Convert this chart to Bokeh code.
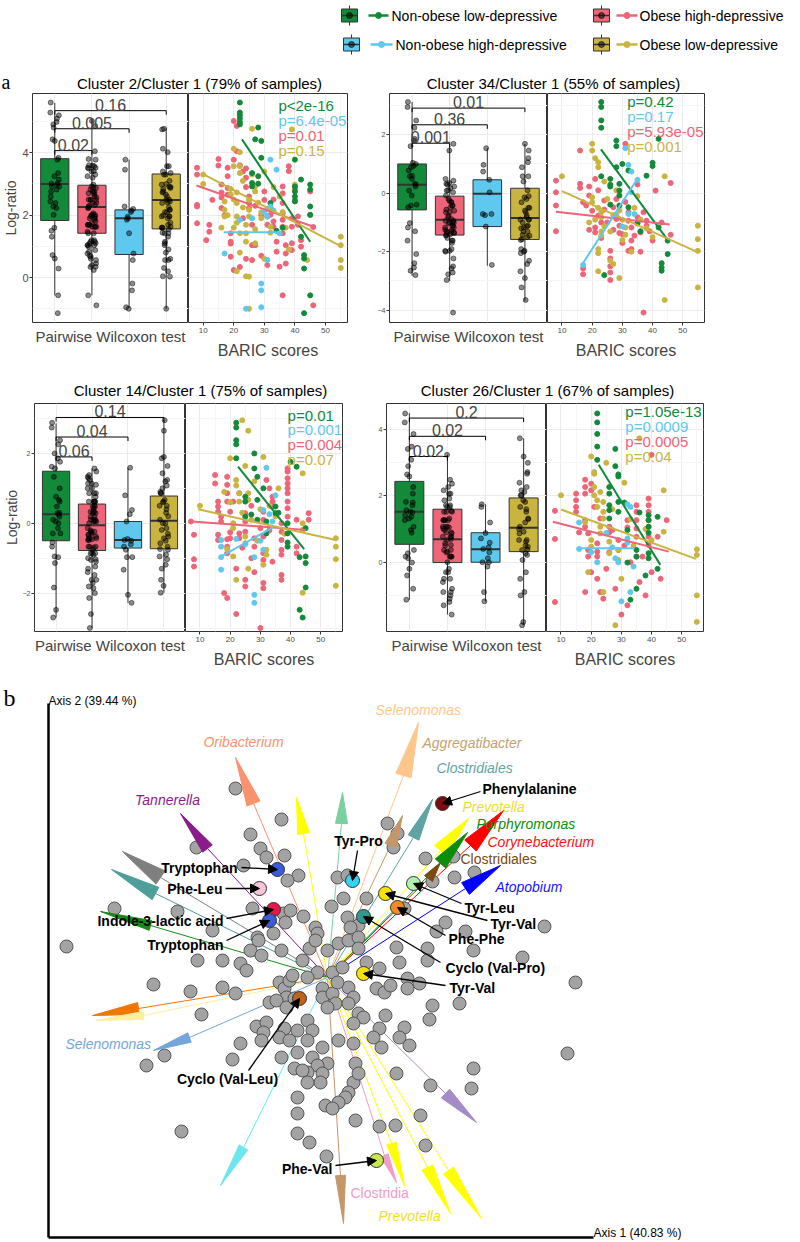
import math
from bokeh.plotting import figure
from bokeh.layouts import column, row
from bokeh.models import Range1d, FixedTicker, Label, Arrow, NormalHead, ColumnDataSource
from bokeh.core.properties import value
from bokeh.embed import file_html
from bokeh.resources import INLINE

FONT = "Liberation Sans"
SERIF = "Liberation Serif"

# ---------------- groups ----------------
GROUPS = ["Non-obese low-depressive", "Obese high-depressive",
          "Non-obese high-depressive", "Obese low-depressive"]
GROUP_COLORS = ["#13893A", "#EE6478", "#5EC8EE", "#C9B440"]

# ---------------- panel a : Cluster 2 / Cluster 1 ----------------
TL_LO = [-0.57, -0.57, -0.97, -1.0]
TL_Q1 = [1.83, 1.42, 0.74, 1.56]
TL_MED = [3.0, 2.26, 1.9, 2.49]
TL_Q3 = [3.81, 2.96, 2.17, 3.32]
TL_HI = [5.6, 5.07, 3.78, 4.8]
TL_GREEN = [(22, 5.61), (22, 5.29), (22, 5.2), (22, 5.1), (22, 4.99), (22, 4.91), (28, 4.81), (27, 4.43),
            (29, 4.38), (29, 3.84), (26, 3.35), (26, 3.03), (26, 2.92), (28, 3.25), (28, 3.01), (32, 2.39),
            (32, 2.23), (40, 3.78), (40, 2.92), (40, 2.76), (40, 2.6), (40, 2.44), (42, 3.14), (45, 2.98),
            (45, 2.82), (45, 2.28), (45, 2.01), (43, 0.72), (43, 0.61), (43, 0.29), (45, -0.57), (43, -1.14),
            (42, 1.31), (36, 1.6), (34, 1.5)]
TL_PINK = [(8, 3.52), (8, 3.3), (8, 2.33), (8, 2.28), (8, 1.74), (15, 3.8), (15, 3.59), (16, 2.98), (16, 2.73),
           (16, 2.57), (16, 2.23), (18, 3.52), (18, 3.25), (18, 2.87), (18, 2.66), (19, 1.42), (19, 1.15),
           (19, 0.67), (19, 1.09), (20, 5.02), (20, 3.78), (21, 4.86), (21, 4.05), (22, 3.6), (23, 3.4),
           (24, 3.5), (24, 3.2), (24, 2.9), (25, 2.6), (25, 2.39), (25, 2.23), (26, 1.69), (26, 1.04), (26, 0.56),
           (27, 1.04), (30, 2.76), (30, 2.49), (31, 1.96), (31, 1.69), (32, 2.01), (33, 1.8), (33, 1.63),
           (34, 1.15), (34, 0.83), (36, 2.92), (36, 2.7), (36, 2.39), (36, 2.06), (36, 1.85), (36, 1.63),
           (36, 1.42), (37, 1.04), (37, 0.77), (37, 0.45), (38, 3.57), (38, 3.41), (40, 2.82), (40, 2.49),
           (39, 1.9), (39, 1.63), (39, 1.1), (39, 0.88), (41, 1.96), (41, 1.69), (42, 1.2), (42, 0.99),
           (45, 2.76), (45, 2.01), (46, 1.62), (46, -0.89), (36, -0.57), (12, 1.69), (12, 1.47), (13, 2.49),
           (11, 1.2), (20, 0.24), (22, 0.34), (24, 0.6), (29, 0.7), (31, 0.4), (35, 0.35), (17, 2.0),
           (23, 1.9), (27, 2.3), (29, 2.0), (33, 2.5)]
TL_BLUE = [(17, 0.77), (32, 3.78), (34, 3.46), (32, 2.28), (31, 2.2), (33, 2.15), (30, 2.1), (31, 1.95),
           (26, 1.9), (22, 1.85), (35, 1.42), (31, 0.56), (29, -0.19), (29, -0.41), (29, -0.95), (24, -1.0)]
TL_YELLOW = [(10, 3.3), (10, 3.0), (17, 2.44), (17, 2.17), (17, 1.96), (19, 2.84), (19, 2.66), (20, 4.13),
             (20, 3.57), (22, 4.02), (22, 3.57), (22, 3.35), (21, 2.73), (21, 2.39), (21, 1.96), (21, 1.76),
             (22, 1.42), (24, 1.69), (24, 1.42), (24, 1.15), (26, 4.77), (25, 2.49), (25, 2.17), (25, 1.96),
             (27, 2.92), (27, 2.76), (22, 0.8), (24, 0.04), (29, 2.09), (29, 1.9), (27, 1.55), (32, 1.63),
             (32, 1.44), (39, 4.75), (40, 2.98), (40, 2.87), (44, 0.56), (55, 1.31), (55, 1.04), (55, 0.56),
             (55, 0.31), (25, -1.0), (25, 0.03), (23, 3.1), (20, 2.5), (18, 2.0), (26, 3.3), (30, 3.4),
             (35, 2.6), (28, 2.4), (23, 2.25), (33, 2.9), (37, 1.6), (20, 1.6), (16, 1.6), (30, 0.6),
             (38, 0.9), (21, 0.2), (27, 1.1), (36, 2.1)]
TL_FIT = [(22.7, 4.43, 45.0, 1.15), (7.8, 2.95, 46.1, 1.63), (16.7, 1.45, 35.0, 1.45), (9.7, 3.33, 55.3, 0.99)]
TL_BRACKETS = [(1, 2, 4.07, "0.02"), (1, 3, 4.77, "0.005"), (1, 4, 5.35, "0.16")]
TL_PVALS = ["p<2e-16", "p=6.4e-05", "p=0.01", "p=0.15"]

# ---------------- panel a : Cluster 34 / Cluster 1 ----------------
TR_LO = [-2.82, -3.0, -2.48, -3.68]
TR_Q1 = [-0.57, -1.43, -1.14, -1.58]
TR_MED = [0.29, -0.91, -0.02, -0.85]
TR_Q3 = [1.0, -0.1, 0.46, 0.17]
TR_HI = [3.12, 1.69, 1.54, 1.68]
TR_GREEN = [(23, 3.12), (23, 2.95), (23, 2.49), (23, 2.24), (28, 1.8), (28, 1.61), (28, 0.89), (23, 0.58),
            (26, 0.49), (26, 0.29), (26, 0.23), (29, 0.32), (29, 0.09), (29, -0.08), (32, 0.78), (40, 1.04),
            (40, 0.93), (42, 1.86), (26, -0.39), (32, -0.48), (42, -1.17), (45, -1.62), (45, -2.08),
            (43, -2.39), (43, -2.54), (43, -2.65), (29, -0.42), (35, -1.02), (38, 0.6), (30, 1.0), (24, -2.8),
            (36, -1.3)]
TR_PINK = [(8, 0.43), (8, 0.03), (8, -0.42), (8, -1.3), (16, 1.46), (16, 0.32), (16, 0.18), (17, -0.31),
           (18, -0.42), (19, 0.23), (19, -0.08), (21, 0.49), (21, -1.17), (21, -1.34), (19, -1.25), (17, -2.57),
           (17, -2.77), (22, -0.77), (23, -1.53), (26, -1.97), (26, -2.23), (26, -2.5), (26, -2.71), (26, -2.97),
           (24, -0.25), (24, -0.56), (27, -0.48), (28, -0.88), (29, -1.11), (29, -1.36), (32, -0.65),
           (32, -0.94), (32, -1.97), (33, -1.17), (33, -1.62), (33, -1.91), (35, -0.82), (35, -1.03),
           (36, -1.34), (37, -0.65), (38, -0.94), (38, -1.11), (40, -1.62), (41, 0.09), (46, 0.35), (46, -1.42),
           (30, -1.4), (31, -0.3), (25, -1.0), (20, -0.6), (34, -1.45), (36, -2.0), (27, -1.25), (23, -1.0),
           (30, -1.7), (39, -1.3), (22, 0.1), (28, -0.2), (35, 0.3), (43, -1.0), (31, 1.69), (37, -4.08)]
TR_BLUE = [(17, -2.45), (32, 0.97), (33, 0.74), (32, -0.71), (34, -0.71), (33, 0.03), (35, 0.46), (30, -1.14),
           (31, 1.54), (28, -0.75)]
TR_YELLOW = [(10, 0.58), (20, 1.69), (20, 1.46), (21, 1.2), (22, 1.06), (22, 0.89), (20, -0.14), (20, -0.31),
             (23, -0.65), (23, -0.82), (23, -1.31), (23, -1.45), (22, -1.91), (22, -2.05), (22, -2.67),
             (26, -2.31), (27, -2.42), (24, -1.13), (26, -1.31), (31, -1.17), (31, -1.42), (29, -0.59),
             (30, -0.91), (44, 0.58), (55, -1.11), (55, -1.57), (55, -1.97), (55, -3.22), (44, -3.65),
             (25, -0.2), (28, 0.1), (34, -0.5), (38, -1.2), (30, -1.6), (21, -0.9), (36, -0.9), (40, -1.5),
             (27, -0.75), (24, 0.4), (33, -2.0), (19, -1.0), (29, -2.9), (35, -0.1), (22, -0.5)]
TR_FIT = [(22.9, 1.5, 44.8, -1.57), (8.0, -0.63, 45.7, -1.07), (16.6, -2.45, 35.2, 0.53), (10.0, 0.07, 55.1, -2.02)]
TR_BRACKETS = [(1, 2, 1.71, "0.001"), (1, 3, 2.34, "0.36"), (1, 4, 2.91, "0.01")]
TR_PVALS = ["p=0.42", "p=0.17", "p=5.93e-05", "p=0.001"]

# ---------------- panel a : Cluster 14 / Cluster 1 ----------------
BL_LO = [-2.7, -3.0, -2.28, -1.99]
BL_Q1 = [-0.5, -0.78, -0.71, -0.73]
BL_MED = [0.26, -0.06, -0.48, 0.07]
BL_Q3 = [1.49, 0.55, 0.05, 0.78]
BL_HI = [2.86, 1.57, 1.59, 2.95]
BL_GREEN = [(22, 2.88), (22, 2.74), (22, 2.38), (22, 2.26), (22, 1.86), (28, 2.0), (28, 1.57), (29, 1.33),
            (25, 0.76), (25, 0.62), (25, 0.19), (29, 0.67), (29, 0.1), (32, 0.05), (32, -0.29), (35, 0.48),
            (35, 0.29), (39, 0.0), (39, -0.29), (39, -0.55), (39, -0.67), (42, 1.62), (40, 1.76), (43, -0.97),
            (45, -0.14), (45, -0.95), (45, -1.14), (45, -1.84), (43, -2.48), (31, 1.0), (36, 0.3), (27, 0.25),
            (44, -2.7)]
BL_PINK = [(8, -1.03), (8, -1.24), (7, 0.05), (15, 1.38), (15, 1.14), (16, 0.62), (16, 0.48), (16, 0.33),
           (17, 0.19), (17, 0.05), (16, -0.33), (16, -0.48), (19, 1.33), (19, 1.1), (19, 0.86), (19, 0.62),
           (20, 0.33), (20, -0.26), (20, -0.43), (19, -0.46), (19, -0.67), (19, -0.86), (21, 0.62), (23, 0.86),
           (23, -0.29), (23, -0.43), (25, 0.29), (25, 0.05), (25, -0.24), (28, -0.43), (28, -0.67), (27, -1.0),
           (30, -0.14), (31, -0.38), (31, 0.33), (31, 0.1), (31, -0.86), (31, -1.05), (32, 1.24), (33, 1.0),
           (34, 0.76), (34, 0.62), (34, 0.48), (37, 0.0), (37, -0.24), (37, -0.48), (37, -0.76), (37, -0.9),
           (39, 1.57), (39, 1.48), (39, 1.29), (39, 1.14), (39, 1.0), (39, 0.86), (39, 0.62), (39, 0.43),
           (39, 0.19), (42, 0.1), (42, -0.67), (42, -0.86), (46, 0.29), (46, 0.1), (18, -2.0), (19, -2.14),
           (25, -1.62), (25, -1.81), (31, -1.71), (31, -1.86), (37, -1.48), (37, -1.62), (8, -0.33),
           (22, -1.3), (28, -1.4), (34, -1.1), (27, 0.5), (24, -0.7), (33, -0.2), (22, -2.6), (30, -3.0)]
BL_BLUE = [(17, -0.97), (17, -0.48), (17, -0.67), (17, -1.33), (31, 0.38), (32, 1.59), (33, 0.26), (34, 0.05),
           (28, -0.97), (31, -0.76), (28, -2.05), (28, -2.28), (30, -0.5), (25, -0.6), (35, 0.8), (22, -0.45)]
BL_YELLOW = [(20, 1.86), (26, 2.65), (25, 1.64), (22, 1.24), (22, 1.08), (23, 0.86), (23, 0.62), (26, 0.86),
             (26, 0.67), (21, 0.0), (21, -0.14), (25, -0.38), (25, -0.57), (19, -0.74), (21, -0.95), (32, -0.76),
             (32, -0.9), (31, -1.19), (44, 1.43), (44, 0.0), (44, -0.19), (55, -0.43), (55, -0.67), (55, -1.03),
             (10, 0.5), (22, -1.62), (55, -1.79), (44, -1.99), (24, 2.95), (28, 1.2), (30, 0.4), (35, 0.2),
             (18, 0.9), (27, 0.1), (33, 0.5), (38, -0.3), (24, 0.3), (29, -0.5), (36, 1.0), (20, 0.6),
             (26, -1.3), (31, 1.9)]
BL_FIT = [(22.6, 1.62, 44.5, -0.74), (7.4, 0.05, 45.1, -0.19), (16.6, -0.97, 34.3, -0.11), (9.4, 0.4, 55.0, -0.48)]
BL_BRACKETS = [(1, 2, 1.9, "0.06"), (1, 3, 2.47, "0.04"), (1, 4, 3.03, "0.14")]
BL_PVALS = ["p=0.01", "p=0.001", "p=0.004", "p=0.07"]

# ---------------- panel a : Cluster 26 / Cluster 1 ----------------
BR_LO = [-1.13, -1.58, -1.18, -1.9]
BR_Q1 = [0.54, -0.01, 0.0, 0.32]
BR_MED = [1.52, 0.69, 0.39, 1.04]
BR_Q3 = [2.44, 1.6, 0.89, 1.94]
BR_HI = [4.5, 3.24, 1.75, 3.74]
BR_GREEN = [(22, 4.49), (22, 4.22), (22, 3.87), (22, 3.49), (22, 3.09), (28, 3.42), (28, 2.9), (29, 2.65),
            (29, 2.59), (26, 2.27), (26, 2.07), (26, 1.72), (26, 1.57), (26, 1.32), (29, 1.82), (29, 1.52),
            (32, 0.97), (32, -0.01), (35, 0.37), (35, 0.17), (39, 1.42), (39, 1.27), (39, 1.07), (39, 0.89),
            (42, 1.37), (39, 0.27), (39, 0.12), (38, -0.4), (42, -0.2), (35, -0.8), (31, 1.8), (36, 1.5),
            (33, -1.13)]
BR_PINK = [(8, 1.55), (8, 0.7), (15, 2.07), (15, 1.87), (15, 1.67), (15, 1.52), (18, 2.27), (18, 2.07),
           (18, 2.49), (20, 2.37), (20, 2.17), (18, 1.27), (18, 1.07), (19, 0.87), (21, 1.67), (23, 1.32),
           (26, 1.07), (26, 0.9), (22, 0.57), (22, 0.32), (22, 0.17), (19, 0.37), (19, 0.17), (27, 0.97),
           (29, 0.67), (29, 0.37), (32, 1.27), (32, 1.05), (35, 1.72), (35, 1.52), (35, 1.27), (35, 1.02),
           (35, 0.77), (35, 0.17), (37, 0.17), (39, 1.92), (39, 1.72), (39, 1.52), (39, 1.27), (39, 1.07),
           (39, 0.77), (39, 0.52), (42, 0.77), (45, 1.27), (40, 3.24), (43, -0.5), (40, -0.3), (25, -0.2),
           (22, -0.5), (28, -0.8), (32, -1.3), (18, -0.9), (36, -0.6), (30, -1.58), (24, -1.1), (8, -1.2),
           (20, -0.3), (26, 0.3), (31, 0.5), (33, 0.0), (16, 0.9), (23, -0.9), (38, -1.0)]
BR_BLUE = [(16, 1.2), (32, 1.75), (33, 1.67), (32, 0.72), (32, 0.59), (28, 0.12), (34, -0.13), (33, -0.9),
           (30, -1.18), (16, 0.4), (25, 0.88), (20, 0.3), (29, 0.0), (27, 0.45), (22, 0.0)]
BR_YELLOW = [(10, 2.02), (20, 3.19), (21, 2.72), (21, 2.67), (21, 2.27), (21, 2.02), (22, 1.87), (22, 1.67),
             (23, 2.12), (24, 1.82), (24, 1.52), (24, 1.32), (23, 1.07), (23, 0.87), (20, 0.67), (20, 0.47),
             (26, 0.62), (26, 0.27), (29, 0.37), (29, 0.07), (44, 2.17), (44, 0.92), (55, 0.39), (55, 0.22),
             (40, 0.67), (55, -1.0), (55, -1.8), (30, -0.5), (24, -0.9), (18, 1.2), (27, 1.6), (33, 1.3),
             (36, 3.74), (31, 2.4), (38, 1.0), (25, 3.0), (19, -0.3), (34, 0.5), (28, -1.9)]
BR_FIT = [(22.5, 2.94, 42.9, -0.08), (7.3, 1.22, 45.7, 0.32), (16.0, 0.42, 34.4, 0.42), (10.0, 1.59, 54.7, 0.1)]
BR_BRACKETS = [(1, 2, 3.19, "0.02"), (1, 3, 3.8, "0.02"), (1, 4, 4.35, "0.2")]
BR_PVALS = ["p=1.05e-13", "p=0.0009", "p=0.0005", "p=0.04"]

TITLES = ["Cluster 2/Cluster 1 (79% of samples)", "Cluster 34/Cluster 1 (55% of samples)",
          "Cluster 14/Cluster 1 (75% of samples)", "Cluster 26/Cluster 1 (67% of samples)"]

# ---------------- panel b : ordination ----------------
GRAY_POINTS = [(-0.92, 1.89), (-0.46, 1.58), (-0.77, 1.43), (-1.31, 1.30), (-0.67, 1.29), (-0.61, 1.20),
               (-0.43, 1.22), (-0.84, 1.12), (-0.29, 1.02), (-0.40, 0.97), (0.10, 1.00), (0.20, 1.02),
               (0.60, 1.54), (0.70, 1.44), (0.66, 1.30), (0.04, 0.71), (0.16, 0.79), (0.39, 0.79),
               (-0.75, 0.69), (-1.50, 0.66), (-2.13, 0.69), (-0.44, 0.64), (-0.37, 0.67), (-0.24, 0.61),
               (0.20, 0.60), (0.31, 0.52), (0.23, 0.50), (-0.42, 0.55), (-0.70, 0.40), (-0.54, 0.44),
               (-1.15, 0.47), (-0.12, 0.50), (-0.10, 0.44), (0.98, 1.19), (1.26, 1.21), (1.05, 0.96),
               (1.27, 1.00), (1.47, 1.05), (0.77, 0.69), (1.18, 0.55), (1.09, 0.46), (1.38, 0.46), (2.17, 0.51),
               (-2.61, 0.31), (-1.30, 0.17), (-1.05, 0.17), (-0.87, 0.14), (-0.81, 0.07), (-0.77, 0.27),
               (-0.66, 0.22), (-0.69, 0.37), (-0.46, 0.27), (-0.25, 0.17), (-0.18, 0.29), (-0.12, 0.37),
               (0.00, 0.27), (0.11, 0.34), (0.21, 0.37), (0.31, 0.40), (0.31, 0.29), (0.39, 0.15), (0.52, 0.09),
               (0.72, 0.15), (0.69, 0.30), (1.00, 0.29), (1.00, 0.17), (1.46, 0.27), (1.95, 0.20), (2.48, -0.05),
               (-1.74, -0.07), (-1.37, -0.14), (-1.05, -0.10), (-0.92, -0.16), (-0.48, -0.05), (-0.43, -0.11),
               (-0.38, -0.03), (-0.35, 0.02), (-0.41, -0.20), (-0.58, -0.25), (-0.51, -0.23), (-0.41, -0.30),
               (-0.33, -0.21), (-0.05, -0.11), (-0.05, -0.20), (0.05, -0.16), (0.08, -0.26), (0.00, -0.30),
               (0.21, -0.10), (0.26, -0.20), (0.21, -0.26), (0.31, -0.36), (0.36, -0.40), (0.26, -0.46),
               (0.49, -0.11), (0.57, -0.15), (0.63, -0.08), (0.80, -0.01), (0.80, -0.11), (0.92, -0.06),
               (1.05, -0.28), (1.02, -0.42), (1.32, -0.26), (-1.26, -0.37), (0.58, -0.38), (-0.71, -0.49),
               (-0.61, -0.45), (-0.64, -0.55), (-0.43, -0.51), (-0.30, -0.53), (-0.20, -0.43), (-0.15, -0.53),
               (-0.87, -0.66), (-0.66, -0.63), (-0.48, -0.60), (-0.38, -0.63), (-0.20, -0.63), (-0.05, -0.70),
               (0.11, -0.63), (0.26, -0.66), (0.52, -0.51), (0.46, -0.60), (0.77, -0.50), (0.72, -0.60),
               (0.82, -0.68), (0.54, -0.70), (-1.63, -0.78), (-1.81, -0.88), (-0.95, -0.82), (-0.46, -0.80),
               (-0.30, -0.75), (-0.15, -0.80), (0.00, -0.86), (-0.10, -0.88), (-0.20, -0.95), (-0.05, -0.96),
               (0.28, -0.86), (0.26, -1.05), (0.31, -0.96), (-0.33, -0.91), (-0.25, -0.93), (-0.07, -1.05),
               (-0.20, -1.05), (0.69, -0.96), (1.03, -1.08), (1.44, -1.11), (1.46, -0.91), (-0.30, -1.20),
               (0.21, -1.15), (0.18, -1.20), (0.11, -1.25), (-0.02, -1.28), (0.05, -1.31), (-0.30, -1.36),
               (0.28, -1.43), (0.93, -1.38), (0.52, -1.49), (0.68, -1.48), (-1.46, -1.54), (-0.30, -1.56),
               (-0.18, -1.65), (0.98, -1.68), (-0.01, -1.79), (2.40, -0.76), (0.05, 0.05), (-0.10, 0.05),
               (0.15, 0.10), (-0.20, 0.00), (0.10, -0.05)]

MET_NAMES = ["Tryptophan", "Phe-Leu", "Indole-3-lactic acid", "Tryptophan", "Tyr-Pro", "Phenylalanine",
             "Tyr-Leu", "Tyr-Val", "Phe-Phe", "Cyclo (Val-Pro)", "Tyr-Val", "Cyclo (Val-Leu)", "Phe-Val"]
MET_PC1 = [-0.50, -0.68, -0.54, -0.58, 0.25, 1.15, 0.86, 0.58, 0.70, 0.36, 0.36, -0.28, 0.49]
MET_PC2 = [1.08, 0.89, 0.68, 0.57, 0.97, 1.74, 0.94, 0.84, 0.70, 0.61, 0.04, -0.21, -1.83]
MET_COLORS = ["#3B5BD9", "#F6C3D8", "#E5174B", "#3B5BD9", "#35D4F2", "#7E0C0C", "#AEF2AE", "#F7E300",
              "#F28A2A", "#2E9A8E", "#F7E300", "#B9651F", "#C6E84C"]
# label anchor, label alignment and pointer start for each metabolite
MET_LABEL_X = [-0.90, -1.05, -1.04, -1.04, 0.31, 1.55, 1.37, 1.63, 1.21, 1.18, 1.22, -1.00, 0.05]
MET_LABEL_Y = [1.10, 0.89, 0.57, 0.33, 1.37, 1.89, 0.70, 0.54, 0.39, 0.10, -0.10, -1.01, -1.91]
MET_LABEL_ALIGN = ["right", "right", "right", "right", "center", "left", "left", "left", "left", "left",
                   "left", "center", "right"]
MET_PTR_X = [-0.86, -1.02, -1.01, -1.01, 0.30, 1.53, 1.34, 1.60, 1.18, 1.13, 1.18, -0.79, 0.08]
MET_PTR_Y = [1.10, 0.89, 0.59, 0.37, 1.27, 1.86, 0.74, 0.57, 0.42, 0.15, -0.08, -0.93, -1.88]

# taxa loadings (arrow tips and head bases) and colors
LOAD_TIP_X = [-0.92, -1.47, -2.05, -2.16, -2.27, -0.31, 0.15, 0.91, 0.75, 1.05, 1.41, 1.40, 1.76, 1.13, 1.73,
              -2.35, -2.32, -1.74, -1.07, 0.16, 0.69, 0.77, 1.23, 1.54, 1.49]
LOAD_TIP_Y = [2.20, 1.64, 1.26, 1.08, 0.66, 1.80, 1.85, 2.55, 1.62, 1.78, 1.59, 1.45, 1.67, 1.15, 1.12,
              -0.38, -0.43, -0.73, -2.08, -2.46, -2.05, -2.08, -2.36, -2.41, -1.45]
LOAD_BASE_X = [-0.74, -1.20, -1.67, -1.72, -1.77, -0.24, 0.14, 0.76, 0.63, 0.86, 1.13, 1.13, 1.43, 1.01, 1.38,
               -1.89, -1.84, -1.38, -0.84, 0.13, 0.57, 0.64, 1.00, 1.21, 1.18]
LOAD_BASE_Y = [1.74, 1.29, 1.00, 0.84, 0.52, 1.44, 1.54, 2.02, 1.32, 1.40, 1.27, 1.14, 1.32, 0.99, 0.89,
               -0.31, -0.38, -0.60, -1.70, -1.98, -1.78, -1.66, -1.90, -1.93, -1.16]
LOAD_COLORS = ["#F7936F", "#8B1A8B", "#7F7F7F", "#4E9E9A", "#178A17", "#FFFF00", "#7CCFA0", "#FFC68C",
               "#C4976A", "#5FA3A3", "#FFFF00", "#0C8C0C", "#FF0000", "#7A4A10", "#0000FF", "#F07800",
               "#FFEEA0", "#74A6DA", "#6EE6F0", "#C4976A", "#F39BC9", "#FFFF00", "#FFFF00", "#FFFF00", "#A58CC8"]
LOAD_HEAD_HALF = [0.07, 0.06, 0.08, 0.07, 0.05, 0.06, 0.06, 0.08, 0.06, 0.06, 0.08, 0.07, 0.08, 0.05, 0.07,
                  0.06, 0.04, 0.05, 0.05, 0.05, 0.04, 0.05, 0.06, 0.06, 0.06]

TAXA_LABELS = ["Oribacterium", "Tannerella", "Selenomonas", "Aggregatibacter", "Clostridiales", "Prevotella",
               "Porphyromonas", "Corynebacterium", "Clostridiales", "Atopobium", "Selenomonas", "Clostridia",
               "Prevotella"]
TAXA_COLORS = ["#F7936F", "#8B1A8B", "#FFC68C", "#C8A070", "#5FA3A3", "#F2DC2A", "#0C8C0C", "#FF1010",
               "#7A4A10", "#1515FF", "#74A6DA", "#F39BC9", "#F2DC2A"]
TAXA_X = [-0.84, -1.60, 0.48, 0.95, 1.09, 1.35, 1.49, 1.60, 1.33, 1.68, -2.62, 0.23, 0.51]
TAXA_Y = [2.36, 1.78, 2.68, 2.35, 2.10, 1.71, 1.54, 1.36, 1.19, 0.91, -0.66, -2.15, -2.38]
TAXA_ALIGN = ["center", "center", "left", "left", "left", "left", "left", "left", "left", "left", "left",
              "left", "left"]
TAXA_STYLE = ["italic", "italic", "italic", "italic", "italic", "italic", "italic", "italic", "normal",
              "italic", "italic", "normal", "italic"]

JITTER = [-0.11, 0.06, -0.03, 0.10, -0.08, 0.02, 0.12, -0.12, 0.05, -0.06, 0.09, -0.01, 0.04, -0.10, 0.11,
          -0.04, 0.0, 0.08, -0.09, 0.07]


def clean(p):
    p.background_fill_color = "white"
    p.border_fill_color = "white"


def blank_fig(w, h, xr, yr):
    p = figure(width=w, height=h, x_range=xr, y_range=yr, output_backend="svg", toolbar_location=None,
               min_border_left=0, min_border_right=0, min_border_top=0, min_border_bottom=0)
    p.axis.visible = False
    p.grid.visible = False
    p.outline_line_color = None
    clean(p)
    return p


def make_panel(lo, q1, med, q3, hi, groups_pts, fits, brackets, pvals, pval_xy, yr, yt, ymt,
               box_w, box_left, sc_w, bottom, tick_fs, ylabel=False):
    height = 1 + 229 + bottom
    yrange = Range1d(*yr)
    px_per_unit = 229.0 / (yr[1] - yr[0])

    b = figure(width=box_w, height=height, x_range=Range1d(0.4, 4.6), y_range=yrange, output_backend="svg",
               toolbar_location=None, min_border_left=box_left, min_border_right=0, min_border_top=1,
               min_border_bottom=bottom)
    clean(b)
    b.outline_line_color = "#333333"
    b.outline_line_width = 1
    b.xgrid.ticker = FixedTicker(ticks=[1, 2, 3, 4])
    b.ygrid.ticker = FixedTicker(ticks=yt, minor_ticks=ymt)
    b.xgrid.grid_line_color = "#EBEBEB"
    b.ygrid.grid_line_color = "#EBEBEB"
    b.ygrid.minor_grid_line_color = "#F5F5F5"
    b.xaxis.ticker = FixedTicker(ticks=[])
    b.xaxis.axis_line_color = None
    b.xaxis.axis_label = "Pairwise Wilcoxon test"
    b.xaxis.axis_label_text_font = FONT
    b.xaxis.axis_label_text_font_size = "15px"
    b.xaxis.axis_label_text_font_style = "normal"
    b.xaxis.axis_label_standoff = 5
    b.yaxis.ticker = FixedTicker(ticks=yt)
    b.yaxis.axis_line_color = None
    b.yaxis.major_tick_out = 3
    b.yaxis.major_tick_in = 0
    b.yaxis.minor_tick_out = 0
    b.yaxis.major_tick_line_color = "#333333"
    b.yaxis.major_label_text_font = FONT
    b.yaxis.major_label_text_font_size = tick_fs
    b.yaxis.major_label_text_color = "#4D4D4D"
    b.yaxis.major_label_standoff = 1
    if ylabel:
        b.yaxis.axis_label = "Log-ratio"
        b.yaxis.axis_label_text_font = FONT
        b.yaxis.axis_label_text_font_size = "14px"
        b.yaxis.axis_label_text_font_style = "normal"
        b.yaxis.axis_label_standoff = 0

    xs = [1, 2, 3, 4]
    src = ColumnDataSource(dict(x=xs, lo=lo, q1=q1, med=med, q3=q3, hi=hi, c=GROUP_COLORS,
                                l=[v - 0.38 for v in xs], r=[v + 0.38 for v in xs]))
    b.segment(x0="x", y0="q3", x1="x", y1="hi", source=src, line_color="#333333", line_width=1)
    b.segment(x0="x", y0="q1", x1="x", y1="lo", source=src, line_color="#333333", line_width=1)
    b.vbar(x="x", top="q3", bottom="q1", width=0.76, source=src, fill_color="c", line_color="#333333",
           line_width=1)
    b.segment(x0="l", y0="med", x1="r", y1="med", source=src, line_color="#333333", line_width=2)

    jx, jy = [], []
    for gi, pts in enumerate(groups_pts):
        for k, (_, v) in enumerate(pts):
            jx.append(gi + 1 + JITTER[(k * 7 + gi * 3) % len(JITTER)])
            jy.append(v)
    b.scatter(jx, jy, size=5, fill_color="black", line_color="black", fill_alpha=0.45, line_alpha=0.45)

    tip = 4.0 / px_per_unit
    for g1, g2, yv, txt in brackets:
        b.segment(x0=[g1, g1, g2], y0=[yv, yv, yv], x1=[g2, g1, g2], y1=[yv, yv - tip, yv - tip],
                  line_color="black", line_width=1)
        b.add_layout(Label(x=(g1 + g2) / 2.0, y=yv, text=txt, text_align="center", text_baseline="bottom",
                           text_font=FONT, text_font_size="16px", y_offset=0))

    s = figure(width=sc_w, height=height, x_range=Range1d(5.2, 57.2), y_range=yrange, output_backend="svg",
               toolbar_location=None, min_border_left=0, min_border_right=1, min_border_top=1,
               min_border_bottom=bottom)
    clean(s)
    s.outline_line_color = "#333333"
    s.yaxis.visible = False
    s.xaxis.ticker = FixedTicker(ticks=[10, 20, 30, 40, 50])
    s.xgrid.ticker = FixedTicker(ticks=[10, 20, 30, 40, 50], minor_ticks=[15, 25, 35, 45, 55])
    s.ygrid.ticker = FixedTicker(ticks=yt, minor_ticks=ymt)
    s.xgrid.grid_line_color = "#EBEBEB"
    s.ygrid.grid_line_color = "#EBEBEB"
    s.xgrid.minor_grid_line_color = "#F5F5F5"
    s.ygrid.minor_grid_line_color = "#F5F5F5"
    s.xaxis.axis_line_color = None
    s.xaxis.major_tick_out = 3
    s.xaxis.major_tick_in = 0
    s.xaxis.minor_tick_out = 0
    s.xaxis.major_tick_line_color = "#333333"
    s.xaxis.major_label_text_font = FONT
    s.xaxis.major_label_text_font_size = "8px"
    s.xaxis.major_label_text_color = "#4D4D4D"
    s.xaxis.major_label_standoff = 2
    s.xaxis.axis_label = "BARIC scores"
    s.xaxis.axis_label_text_font = FONT
    s.xaxis.axis_label_text_font_size = "16px"
    s.xaxis.axis_label_text_font_style = "normal"
    s.xaxis.axis_label_standoff = 6

    for gi in [1, 3, 0, 2]:
        pts = groups_pts[gi]
        s.scatter([a for a, _ in pts], [v for _, v in pts], size=5, color=GROUP_COLORS[gi])
    fsrc = ColumnDataSource(dict(x0=[f[0] for f in fits], y0=[f[1] for f in fits], x1=[f[2] for f in fits],
                                 y1=[f[3] for f in fits], c=GROUP_COLORS))
    s.segment(x0="x0", y0="y0", x1="x1", y1="y1", source=fsrc, line_color="c", line_width=2)
    order = [0, 2, 1, 3]
    step = 15.0 / px_per_unit
    for k, gi in enumerate(order):
        s.add_layout(Label(x=pval_xy[0], y=pval_xy[1] - k * step, text=pvals[k], text_color=GROUP_COLORS[gi],
                           text_font=FONT, text_font_size="15px", text_baseline="middle", text_align="left"))
    return b, s


# ---------------- legend ----------------
LEG_BOX_X = [349, 601, 351, 601]
LEG_Y = [15, 15, 44, 44]
LEG_LINE_X0 = [368, 616, 370, 616]
LEG_LINE_X1 = [388, 637, 392, 637]
LEG_TEXT_X = [391, 639, 395, 639]

lg = blank_fig(798, 70, Range1d(0, 798), Range1d(70, 0))
for i in range(4):
    c = GROUP_COLORS[i]
    bx, yy = LEG_BOX_X[i], LEG_Y[i]
    lg.segment(x0=[bx], y0=[yy - 10], x1=[bx], y1=[yy + 10], line_color="#333333", line_width=1)
    lg.quad(left=[bx - 8], right=[bx + 8], top=[yy - 6.5], bottom=[yy + 6.5], fill_color=c,
            line_color="#333333", line_width=1)
    lg.segment(x0=[bx - 8], y0=[yy], x1=[bx + 8], y1=[yy], line_color="#333333", line_width=1.5)
    lg.scatter([bx], [yy], size=6, fill_color="black", line_color="black", fill_alpha=0.55, line_alpha=0.55)
    lg.segment(x0=[LEG_LINE_X0[i]], y0=[yy], x1=[LEG_LINE_X1[i]], y1=[yy], line_color=c, line_width=2.5)
    lg.scatter([(LEG_LINE_X0[i] + LEG_LINE_X1[i]) / 2.0], [yy], size=6, color=c)
    lg.text([LEG_TEXT_X[i]], [yy], text=[GROUPS[i]], text_font=value(FONT), text_font_size="14px",
            text_baseline="middle", text_align="left", text_color="black")

# ---------------- title strips ----------------
st1 = blank_fig(798, 22, Range1d(0, 798), Range1d(22, 0))
st1.text([199, 553], [13, 13], text=TITLES[:2], text_font=value(FONT), text_font_size="15px",
         text_align="center", text_baseline="middle", text_color="black")
st1.text([1], [11], text=["a"], text_font=value(SERIF), text_font_size="20px", text_align="left",
         text_baseline="middle", text_color="black")
st2 = blank_fig(798, 40, Range1d(0, 798), Range1d(40, 0))
st2.text([200, 547], [28, 28], text=TITLES[2:], text_font=value(FONT), text_font_size="15px",
         text_align="center", text_baseline="middle", text_color="black")

b1, s1 = make_panel(TL_LO, TL_Q1, TL_MED, TL_Q3, TL_HI, [TL_GREEN, TL_PINK, TL_BLUE, TL_YELLOW], TL_FIT,
                    TL_BRACKETS, TL_PVALS, (34.6, 5.5), (-1.44, 5.9), [0, 2, 4], [-1, 1, 3, 5],
                    188, 28, 160, 40, "11px", ylabel=True)
b2, s2 = make_panel(TR_LO, TR_Q1, TR_MED, TR_Q3, TR_HI, [TR_GREEN, TR_PINK, TR_BLUE, TR_YELLOW], TR_FIT,
                    TR_BRACKETS, TR_PVALS, (31.6, 3.12), (-4.42, 3.41), [-4, -2, 0, 2], [-3, -1, 1, 3],
                    199, 41, 158, 40, "7px")
b3, s3 = make_panel(BL_LO, BL_Q1, BL_MED, BL_Q3, BL_HI, [BL_GREEN, BL_PINK, BL_BLUE, BL_YELLOW], BL_FIT,
                    BL_BRACKETS, BL_PVALS, (39.0, 3.1), (-3.1, 3.43), [-2, 0, 2], [-3, -1, 1, 3],
                    185, 28, 158, 38, "7px", ylabel=True)
b4, s4 = make_panel(BR_LO, BR_Q1, BR_MED, BR_Q3, BR_HI, [BR_GREEN, BR_PINK, BR_BLUE, BR_YELLOW], BR_FIT,
                    BR_BRACKETS, BR_PVALS, (31.3, 4.55), (-2.09, 4.79), [0, 2, 4], [-1, 1, 3],
                    203, 43, 158, 38, "7px")

# ---------------- panel b ----------------
pb = blank_fig(798, 570, Range1d(-3.27, 4.71), Range1d(-2.63, 3.07))
n = len(LOAD_TIP_X)
pb.segment(x0=[0.0] * n, y0=[0.0] * n, x1=LOAD_BASE_X, y1=LOAD_BASE_Y, line_color=LOAD_COLORS, line_width=1)
pb.scatter([p[0] for p in GRAY_POINTS], [p[1] for p in GRAY_POINTS], size=13, fill_color="#A3A3A3",
           line_color="#555555", line_width=1)
hx, hy = [], []
for i in range(n):
    tx, ty, bx, by, hw = LOAD_TIP_X[i], LOAD_TIP_Y[i], LOAD_BASE_X[i], LOAD_BASE_Y[i], LOAD_HEAD_HALF[i]
    dx, dy = tx - bx, ty - by
    L = math.hypot(dx, dy)
    nx, ny = -dy / L, dx / L
    hx.append([tx, bx + nx * hw, bx - nx * hw])
    hy.append([ty, by + ny * hw, by - ny * hw])
pb.patches(hx, hy, fill_color=LOAD_COLORS, line_color=LOAD_COLORS, line_width=1)
pb.scatter(MET_PC1, MET_PC2, size=14, fill_color=MET_COLORS, line_color="#333333", line_width=1)

for i in range(len(MET_NAMES)):
    pb.add_layout(Arrow(end=NormalHead(size=9, fill_color="black", line_color="black"),
                        x_start=MET_PTR_X[i], y_start=MET_PTR_Y[i], x_end=MET_PC1[i], y_end=MET_PC2[i],
                        line_color="black", line_width=1.3))
    pb.text([MET_LABEL_X[i]], [MET_LABEL_Y[i]], text=[MET_NAMES[i]], text_font=value(FONT),
            text_font_size="14px", text_font_style="bold", text_align=MET_LABEL_ALIGN[i],
            text_baseline="middle", text_color="black")

for i in range(len(TAXA_LABELS)):
    pb.text([TAXA_X[i]], [TAXA_Y[i]], text=[TAXA_LABELS[i]], text_font=value(FONT), text_font_size="14px",
            text_font_style=TAXA_STYLE[i], text_align=TAXA_ALIGN[i], text_baseline="middle",
            text_color=TAXA_COLORS[i])

# ordination axes
pb.segment(x0=[-2.79, -2.79], y0=[2.74, -2.60], x1=[-2.79, 2.66], y1=[-2.60, -2.60], line_color="black",
           line_width=2.5)
pb.text([-2.79], [2.77], text=["Axis 2 (39.44 %)"], text_font=value(FONT), text_font_size="12px",
        text_align="left", text_baseline="middle", text_color="black")
pb.text([2.66], [-2.55], text=["Axis 1 (40.83 %)"], text_font=value(FONT), text_font_size="12px",
        text_align="left", text_baseline="middle", text_color="black")
pb.text([-3.24], [2.80], text=["b"], text_font=value(SERIF), text_font_size="24px", text_align="left",
        text_baseline="alphabetic", text_color="black")

layout = column(lg, st1, row(b1, s1, b2, s2), st2, row(b3, s3, b4, s4), pb)
open("out.html", "w").write(file_html(layout, INLINE))
